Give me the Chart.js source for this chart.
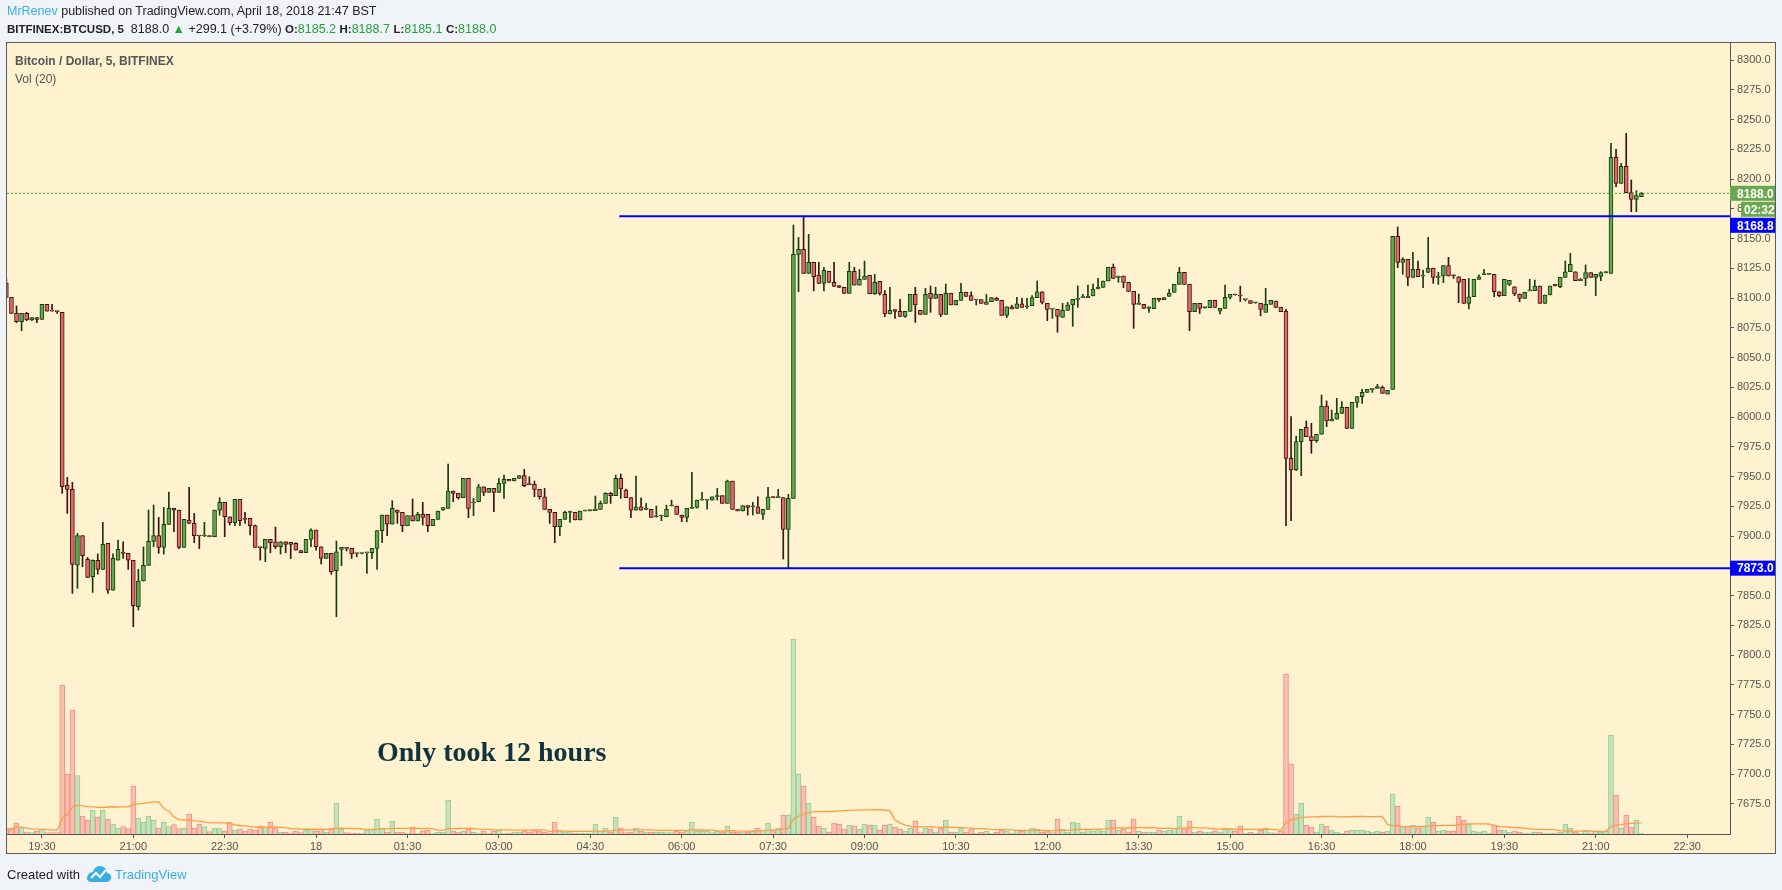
<!DOCTYPE html>
<html>
<head>
<meta charset="utf-8">
<script src="https://cdn.jsdelivr.net/npm/chart.js@4.4.0/dist/chart.umd.min.js"></script>
<style>
  html, body { margin: 0; padding: 0; width: 1782px; height: 890px; overflow: hidden; background: #f0f3f7; font-family: Arial, "Liberation Sans", sans-serif; }
  .abs { position: absolute; white-space: nowrap; z-index: 3; }
  #line1 { left: 7px; top: 4px; font-size: 12.5px; color: #222; }
  #line2 { left: 7px; top: 22px; font-size: 12.5px; color: #222; }
  #line2 b { font-size: 11.5px; }
  #line1 .user, #footer .tv { color: #3aafe0; }
  .g { color: #23a23a; }
  #frame { position: absolute; left: 6px; top: 42px; width: 1768px; height: 810px; border: 1px solid #5b5b5b; background: #fff2cf; z-index: 1; }
  #wrap { position: absolute; left: 0; top: 0; width: 1782px; height: 890px; z-index: 2; }
  #title { left: 15px; top: 54px; font-size: 12px; font-weight: bold; color: #555; }
  #vol { left: 15px; top: 72px; font-size: 12px; color: #555; }
  #note { left: 377px; top: 738px; font-family: "Liberation Serif", "Times New Roman", serif; font-weight: bold; font-size: 28px; line-height: 28px; color: #0e3440; }
  #footer { left: 7px; top: 865px; font-size: 13px; color: #222; }
  #footer svg { vertical-align: -4px; margin: 0 3px 0 6px; }
</style>
</head>
<body>
<div class="abs" id="line1"><span class="user">MrRenev</span> published on TradingView.com, April 18, 2018 21:47 BST</div>
<div class="abs" id="line2"><b>BITFINEX:BTCUSD, 5</b>&nbsp; 8188.0 <span class="g">&#9650;</span> +299.1 (+3.79%) <b>O:</b><span class="g">8185.2</span> <b>H:</b><span class="g">8188.7</span> <b>L:</b><span class="g">8185.1</span> <b>C:</b><span class="g">8188.0</span></div>
<div id="frame"></div>
<div id="wrap"><canvas id="chart"></canvas></div>
<div class="abs" id="title">Bitcoin / Dollar, 5, BITFINEX</div>
<div class="abs" id="vol">Vol (20)</div>
<div class="abs" id="note">Only took 12 hours</div>
<div class="abs" id="footer">Created with<svg width="26" height="18" viewBox="0 0 26 18"><path d="M5 17 C1 17 0 13 2 10 C3 8 5 7 7 7 C8 3 11 1 14 1 C18 1 21 4 21 8 C24 8 26 11 25 14 C24 16 22 17 20 17 Z" fill="#3aafe0"/><polyline points="5,13 10,8 14,12 20,5" fill="none" stroke="#fff" stroke-width="2"/></svg><span class="tv">TradingView</span></div>

<script>
// 5-minute candles, BITFINEX:BTCUSD, first candle 18:55
const startTime = '18:55';
const stepMinutes = 5;

const opens = [
  8112.3, 8100.5, 8087.1, 8080.1, 8087.1, 8081.5, 8083.5, 8082.1, 8094.7, 8089.6,
  8089.0, 8087.9, 7942.6, 7939.2, 7875.6, 7900.3, 7880.4, 7865.8, 7879.5, 7872.0,
  7893.8, 7854.6, 7879.8, 7886.3, 7885.4, 7879.5, 7840.6, 7862.2, 7875.4, 7895.5,
  7900.3, 7890.5, 7909.8, 7923.2, 7921.8, 7890.5, 7913.5, 7910.6, 7900.3, 7900.0,
  7900.3, 7899.4, 7921.8, 7928.3, 7916.2, 7911.2, 7930.8, 7914.8, 7914.8, 7908.7,
  7890.5, 7889.6, 7897.2, 7895.2, 7891.0, 7895.2, 7894.6, 7893.8, 7887.7, 7886.0,
  7897.2, 7905.0, 7891.0, 7881.2, 7885.4, 7870.9, 7888.8, 7890.5, 7889.6, 7885.4,
  7885.3, 7885.8, 7886.0, 7889.6, 7904.5, 7917.6, 7910.0, 7921.8, 7919.9, 7908.7,
  7917.1, 7912.6, 7918.2, 7918.2, 7908.7, 7914.0, 7921.8, 7923.2, 7937.8, 7935.8,
  7932.2, 7948.4, 7927.9, 7928.8, 7941.4, 7936.7, 7940.1, 7936.7, 7944.3, 7947.6,
  7946.2, 7948.4, 7950.7, 7943.4, 7943.4, 7939.2, 7933.0, 7922.4, 7919.9, 7907.8,
  7914.0, 7919.9, 7919.9, 7913.5, 7921.0, 7921.3, 7921.3, 7922.4, 7927.4, 7935.8,
  7933.9, 7948.4, 7938.6, 7932.2, 7921.8, 7924.6, 7922.4, 7922.4, 7916.2, 7916.8,
  7916.2, 7925.2, 7925.2, 7917.6, 7915.7, 7923.2, 7924.1, 7930.2, 7930.2, 7930.2,
  7933.0, 7933.9, 7927.4, 7946.2, 7922.4, 7921.0, 7925.5, 7924.6, 7924.6, 7918.2,
  7922.4, 7933.0, 7932.2, 7932.2, 7905.6, 7931.6, 8136.7, 8140.9, 8120.7, 8130.0,
  8119.3, 8112.3, 8122.4, 8113.2, 8110.4, 8109.0, 8103.9, 8122.4, 8110.9, 8115.7,
  8119.0, 8103.6, 8114.0, 8103.0, 8086.6, 8090.2, 8088.8, 8084.6, 8088.8, 8103.0,
  8089.6, 8086.3, 8103.9, 8099.7, 8103.0, 8086.3, 8103.9, 8094.1, 8098.0, 8104.8,
  8102.0, 8098.3, 8098.6, 8094.7, 8096.9, 8099.7, 8098.0, 8085.4, 8092.7, 8091.3,
  8095.2, 8092.7, 8093.6, 8100.3, 8105.3, 8095.5, 8090.7, 8090.5, 8083.8, 8089.6,
  8094.1, 8098.9, 8100.3, 8100.3, 8101.7, 8107.6, 8109.0, 8114.3, 8125.8, 8117.4,
  8118.5, 8113.2, 8105.6, 8094.7, 8094.7, 8091.3, 8091.0, 8099.7, 8098.6, 8101.4,
  8104.8, 8111.5, 8121.6, 8111.5, 8088.5, 8095.5, 8091.9, 8091.9, 8098.0, 8089.0,
  8091.3, 8100.5, 8103.3, 8102.2, 8098.6, 8097.8, 8096.0, 8095.5, 8088.0, 8094.7,
  8097.5, 8092.2, 8088.8, 7965.3, 7955.5, 7979.3, 7991.3, 7983.5, 7980.1, 7985.5,
  8009.2, 7996.7, 7998.1, 8003.1, 8008.1, 7990.5, 8012.3, 8017.1, 8020.7, 8023.2,
  8024.1, 8024.9, 8019.3, 8023.2, 8151.8, 8130.0, 8132.5, 8117.4, 8124.1, 8118.5,
  8121.6, 8125.0, 8117.4, 8118.5, 8127.2, 8119.4, 8117.9, 8115.7, 8095.5, 8101.1,
  8115.7, 8119.6, 8119.9, 8119.9, 8105.3, 8102.0, 8111.5, 8109.5, 8103.4, 8099.7,
  8106.0, 8106.2, 8110.1, 8095.5, 8102.5, 8111.5, 8109.5, 8117.4, 8122.1, 8122.1,
  8114.6, 8116.5, 8121.3, 8117.4, 8118.2, 8121.3, 8120.7, 8218.2, 8196.4, 8210.6,
  8188.5, 8182.9, 8185.2
];

const highs = [
  8116.0, 8100.5, 8093.3, 8087.1, 8088.0, 8083.5, 8083.5, 8094.7, 8094.7, 8094.7,
  8089.0, 8087.9, 7949.3, 7945.1, 7902.2, 7900.3, 7882.0, 7880.0, 7884.9, 7911.5,
  7893.8, 7885.0, 7896.6, 7895.2, 7885.4, 7879.5, 7872.0, 7890.8, 7921.9, 7926.1,
  7915.7, 7924.1, 7937.0, 7923.2, 7921.8, 7914.0, 7940.9, 7919.0, 7900.3, 7911.5,
  7900.3, 7921.8, 7932.2, 7928.3, 7916.2, 7930.8, 7930.8, 7919.9, 7914.8, 7909.2,
  7890.5, 7897.2, 7897.2, 7907.5, 7895.2, 7895.2, 7894.6, 7894.4, 7887.7, 7897.2,
  7906.1, 7905.0, 7891.0, 7885.4, 7885.4, 7895.8, 7890.5, 7890.5, 7889.6, 7885.4,
  7885.4, 7886.0, 7889.6, 7904.5, 7917.6, 7917.6, 7929.7, 7921.8, 7919.9, 7917.1,
  7931.1, 7919.9, 7928.3, 7918.2, 7914.0, 7921.0, 7923.8, 7960.5, 7937.8, 7935.8,
  7948.4, 7948.4, 7931.6, 7943.4, 7941.4, 7940.1, 7940.1, 7948.4, 7951.2, 7947.6,
  7948.4, 7950.7, 7956.0, 7949.8, 7946.2, 7939.2, 7940.0, 7922.4, 7919.9, 7914.0,
  7921.0, 7921.0, 7919.9, 7921.0, 7921.3, 7921.3, 7933.6, 7929.4, 7936.4, 7936.7,
  7951.2, 7952.1, 7939.5, 7932.2, 7950.4, 7932.0, 7927.4, 7922.4, 7925.2, 7917.6,
  7926.0, 7930.2, 7925.2, 7917.6, 7923.2, 7953.5, 7930.2, 7936.7, 7930.2, 7933.0,
  7940.0, 7933.9, 7947.0, 7946.2, 7922.4, 7925.5, 7925.5, 7928.3, 7933.0, 7922.4,
  7940.9, 7933.0, 7939.2, 7932.2, 7935.0, 8161.3, 8151.0, 8168.8, 8153.5, 8130.0,
  8130.0, 8125.8, 8122.4, 8130.0, 8110.4, 8109.0, 8130.0, 8125.8, 8124.0, 8131.0,
  8119.0, 8119.9, 8114.0, 8106.2, 8109.0, 8090.2, 8099.0, 8088.8, 8103.0, 8109.0,
  8089.6, 8108.1, 8110.1, 8109.0, 8103.0, 8111.8, 8103.9, 8098.0, 8112.3, 8104.8,
  8105.3, 8098.3, 8098.6, 8103.0, 8100.3, 8100.5, 8098.0, 8092.7, 8094.0, 8100.5,
  8099.7, 8099.7, 8102.0, 8114.3, 8105.3, 8095.5, 8090.7, 8090.5, 8095.5, 8096.3,
  8098.9, 8110.1, 8103.0, 8110.9, 8111.8, 8116.5, 8114.3, 8125.8, 8128.6, 8118.5,
  8118.5, 8113.2, 8105.6, 8103.4, 8094.7, 8092.7, 8099.7, 8099.7, 8100.3, 8107.3,
  8111.5, 8125.8, 8121.6, 8111.5, 8095.5, 8095.5, 8092.2, 8098.0, 8098.0, 8091.3,
  8110.9, 8103.0, 8103.3, 8110.0, 8098.6, 8097.8, 8096.0, 8095.5, 8108.1, 8098.0,
  8097.5, 8092.2, 8090.5, 8000.3, 7984.0, 7989.7, 7996.7, 7994.7, 7985.5, 8018.5,
  8013.5, 8005.9, 8015.7, 8012.9, 8008.1, 8012.3, 8017.1, 8023.2, 8023.2, 8023.2,
  8027.5, 8026.1, 8022.4, 8151.8, 8159.7, 8133.9, 8132.5, 8138.4, 8131.1, 8123.5,
  8151.0, 8125.0, 8121.6, 8127.2, 8134.2, 8119.4, 8117.9, 8115.7, 8116.5, 8115.7,
  8119.4, 8124.1, 8120.4, 8119.9, 8105.3, 8115.7, 8114.9, 8109.5, 8103.4, 8104.8,
  8115.7, 8115.1, 8110.1, 8102.5, 8110.1, 8111.5, 8117.4, 8131.1, 8137.5, 8122.1,
  8116.5, 8127.8, 8121.3, 8119.9, 8122.1, 8122.1, 8230.0, 8224.9, 8213.2, 8238.4,
  8199.2, 8190.2, 8188.7
];

const lows = [
  8100.0, 8087.0, 8079.3, 8072.5, 8081.0, 8081.0, 8079.3, 8082.0, 8089.0, 8089.0,
  8087.0, 7935.8, 7919.0, 7851.8, 7856.0, 7874.2, 7865.0, 7852.6, 7868.0, 7872.0,
  7851.8, 7854.6, 7879.8, 7881.2, 7872.0, 7823.8, 7837.8, 7862.2, 7875.4, 7891.0,
  7885.4, 7884.8, 7909.8, 7903.6, 7889.4, 7890.5, 7910.6, 7894.4, 7889.4, 7899.5,
  7899.4, 7899.4, 7917.6, 7899.4, 7909.2, 7908.7, 7908.7, 7910.6, 7900.9, 7890.5,
  7879.8, 7878.4, 7886.0, 7889.4, 7884.8, 7886.0, 7881.0, 7888.2, 7886.0, 7886.0,
  7891.0, 7888.2, 7876.5, 7881.2, 7867.8, 7832.2, 7875.0, 7887.5, 7881.2, 7882.5,
  7885.0, 7868.6, 7881.0, 7872.0, 7894.4, 7900.3, 7910.0, 7910.6, 7903.6, 7908.7,
  7912.6, 7912.6, 7909.2, 7903.6, 7908.7, 7914.0, 7921.8, 7923.2, 7928.8, 7931.0,
  7932.2, 7915.4, 7917.1, 7928.8, 7933.9, 7936.7, 7920.4, 7936.7, 7931.6, 7946.2,
  7946.2, 7948.4, 7941.4, 7943.0, 7933.0, 7931.0, 7922.4, 7910.6, 7894.4, 7900.3,
  7914.0, 7911.5, 7913.5, 7913.5, 7921.0, 7921.0, 7921.3, 7922.4, 7927.4, 7927.4,
  7933.9, 7931.6, 7932.2, 7915.4, 7921.8, 7921.8, 7922.0, 7915.7, 7915.7, 7912.9,
  7916.2, 7925.2, 7918.2, 7912.0, 7912.0, 7923.2, 7923.5, 7930.2, 7922.6, 7930.2,
  7930.2, 7927.4, 7927.4, 7922.4, 7921.0, 7921.0, 7917.6, 7917.6, 7919.0, 7914.0,
  7922.4, 7932.2, 7932.2, 7880.7, 7873.0, 7931.6, 8105.3, 8120.7, 8120.7, 8106.0,
  8112.3, 8106.0, 8113.2, 8109.8, 8109.0, 8103.9, 8103.9, 8110.9, 8110.9, 8115.7,
  8103.6, 8103.0, 8102.5, 8084.3, 8086.6, 8082.9, 8084.6, 8083.8, 8088.8, 8079.5,
  8086.3, 8086.3, 8088.0, 8099.7, 8084.3, 8086.3, 8094.1, 8094.1, 8098.0, 8101.4,
  8098.0, 8094.1, 8095.5, 8094.7, 8096.9, 8098.0, 8085.4, 8083.5, 8090.8, 8091.3,
  8092.2, 8091.3, 8093.6, 8100.3, 8095.0, 8081.0, 8082.9, 8071.2, 8083.8, 8089.6,
  8076.2, 8092.2, 8100.3, 8100.3, 8101.7, 8107.6, 8109.0, 8114.3, 8116.5, 8113.2,
  8108.7, 8105.6, 8074.5, 8094.7, 8091.3, 8088.0, 8091.0, 8097.2, 8098.6, 8101.4,
  8104.8, 8111.5, 8111.5, 8072.6, 8088.5, 8087.0, 8091.3, 8091.9, 8092.2, 8086.6,
  8091.3, 8099.2, 8102.5, 8097.0, 8097.5, 8095.5, 8095.5, 8085.1, 8088.0, 8094.7,
  8092.2, 8088.5, 7908.7, 7912.9, 7955.0, 7950.7, 7983.5, 7969.5, 7978.7, 7985.5,
  7991.9, 7996.7, 7998.1, 8003.1, 7990.5, 7990.5, 8008.1, 8011.5, 8020.7, 8020.7,
  8024.1, 8019.9, 8019.3, 8023.2, 8125.5, 8119.9, 8110.4, 8117.4, 8118.0, 8108.7,
  8121.6, 8112.3, 8111.5, 8112.9, 8118.5, 8116.5, 8096.1, 8095.5, 8090.8, 8101.1,
  8115.7, 8119.6, 8119.9, 8101.1, 8101.1, 8102.0, 8110.4, 8102.0, 8096.9, 8099.7,
  8106.0, 8106.2, 8095.5, 8095.5, 8102.5, 8110.1, 8108.7, 8117.4, 8122.1, 8114.6,
  8114.6, 8110.4, 8117.4, 8102.0, 8114.6, 8121.0, 8120.7, 8193.6, 8196.4, 8188.5,
  8172.5, 8172.5, 8185.1
];

const closes = [
  8100.5, 8087.1, 8080.1, 8087.1, 8081.5, 8083.5, 8082.1, 8094.7, 8089.0, 8089.0,
  8088.5, 7941.4, 7939.2, 7876.2, 7900.3, 7883.5, 7865.3, 7879.5, 7872.0, 7893.0,
  7854.6, 7881.2, 7888.8, 7885.4, 7879.8, 7841.5, 7862.2, 7875.4, 7895.5, 7900.3,
  7890.5, 7909.8, 7923.2, 7921.8, 7890.5, 7914.0, 7910.6, 7900.3, 7900.0, 7900.3,
  7899.4, 7921.8, 7928.3, 7916.2, 7911.2, 7930.8, 7912.9, 7914.0, 7908.7, 7890.5,
  7890.2, 7897.2, 7894.4, 7891.0, 7895.2, 7893.0, 7893.0, 7888.2, 7886.0, 7897.2,
  7905.0, 7891.0, 7881.2, 7885.4, 7870.0, 7886.8, 7890.5, 7889.6, 7884.9, 7885.3,
  7885.3, 7885.8, 7889.6, 7904.5, 7917.6, 7910.0, 7923.2, 7919.9, 7908.7, 7917.1,
  7912.6, 7918.2, 7915.7, 7908.7, 7914.0, 7921.0, 7923.8, 7937.8, 7935.8, 7932.2,
  7948.4, 7923.2, 7928.0, 7941.4, 7936.7, 7940.1, 7936.7, 7944.3, 7947.6, 7946.2,
  7948.4, 7950.7, 7942.3, 7943.2, 7939.2, 7933.0, 7922.4, 7919.9, 7907.8, 7914.0,
  7919.9, 7919.9, 7913.5, 7921.0, 7921.3, 7921.3, 7922.7, 7927.4, 7935.8, 7933.9,
  7948.4, 7939.5, 7932.2, 7921.8, 7924.6, 7921.8, 7922.4, 7915.7, 7916.2, 7917.6,
  7922.4, 7925.2, 7918.2, 7915.7, 7923.2, 7924.1, 7930.2, 7930.2, 7930.2, 7933.0,
  7933.9, 7927.4, 7946.2, 7922.4, 7921.0, 7925.5, 7924.1, 7924.6, 7919.0, 7922.4,
  7933.0, 7932.2, 7932.2, 7905.6, 7931.6, 8136.7, 8140.9, 8120.7, 8130.0, 8117.9,
  8112.3, 8123.2, 8113.2, 8109.8, 8109.0, 8103.9, 8122.4, 8110.9, 8115.7, 8118.5,
  8103.6, 8113.2, 8103.9, 8086.6, 8089.6, 8088.8, 8084.6, 8088.8, 8103.0, 8094.1,
  8086.3, 8103.0, 8099.7, 8103.0, 8086.3, 8103.9, 8094.1, 8098.0, 8104.8, 8101.4,
  8098.0, 8098.3, 8095.5, 8096.9, 8100.3, 8098.0, 8085.4, 8092.7, 8090.8, 8095.2,
  8092.2, 8092.7, 8100.3, 8105.3, 8096.4, 8090.5, 8090.7, 8084.6, 8089.6, 8094.1,
  8098.9, 8098.9, 8100.3, 8101.7, 8107.6, 8109.0, 8114.3, 8125.8, 8116.5, 8118.5,
  8113.2, 8105.6, 8094.7, 8094.7, 8091.3, 8092.7, 8099.7, 8098.3, 8100.3, 8104.2,
  8111.5, 8121.6, 8111.5, 8088.5, 8095.5, 8091.3, 8091.9, 8098.0, 8092.2, 8091.3,
  8100.5, 8103.0, 8102.5, 8101.7, 8098.6, 8095.5, 8096.0, 8090.5, 8094.7, 8098.0,
  8092.2, 8088.5, 7965.3, 7955.5, 7979.3, 7989.7, 7983.5, 7980.1, 7985.5, 8009.2,
  7996.7, 7998.1, 8003.1, 8008.1, 7990.5, 8012.3, 8017.1, 8020.7, 8023.2, 8023.2,
  8025.5, 8019.9, 8022.4, 8151.8, 8130.0, 8132.5, 8117.4, 8124.1, 8118.0, 8118.5,
  8125.0, 8117.4, 8118.5, 8127.2, 8118.5, 8118.5, 8113.2, 8095.5, 8101.1, 8115.7,
  8117.9, 8119.6, 8119.9, 8105.3, 8102.0, 8115.7, 8114.9, 8103.4, 8099.7, 8104.8,
  8106.0, 8110.1, 8095.5, 8102.5, 8110.1, 8110.1, 8117.4, 8122.1, 8128.3, 8114.6,
  8116.0, 8121.3, 8117.4, 8119.9, 8121.3, 8121.3, 8218.2, 8196.4, 8210.6, 8188.5,
  8182.9, 8186.0, 8188.0
];

// volume per candle
const volumes = [
  50, 53, 110, 63, 20, 13, 30, 43, 13, 13,
  13, 1490, 600, 1240, 583, 180, 140, 240, 170, 240,
  150, 100, 60, 73, 53, 480, 160, 120, 180, 140,
  60, 120, 73, 93, 53, 60, 200, 60, 100, 73,
  23, 60, 53, 30, 110, 40, 50, 30, 50, 40,
  80, 70, 120, 60, 20, 20, 10, 30, 13, 40,
  50, 30, 50, 20, 60, 310, 50, 13, 10, 10,
  10, 37, 50, 150, 60, 20, 130, 20, 20, 10,
  70, 10, 30, 40, 10, 20, 20, 340, 30, 20,
  30, 50, 20, 10, 30, 10, 30, 40, 10, 10,
  20, 20, 30, 20, 40, 30, 20, 10, 120, 40,
  20, 13, 10, 10, 10, 10, 100, 30, 60, 20,
  170, 60, 13, 20, 60, 30, 20, 20, 20, 20,
  13, 13, 30, 20, 30, 120, 30, 30, 30, 13,
  30, 20, 80, 20, 20, 13, 20, 30, 60, 40,
  110, 37, 60, 190, 190, 1950, 600, 480, 310, 170,
  80, 60, 20, 110, 100, 50, 90, 80, 50, 100,
  90, 90, 40, 90, 100, 70, 50, 30, 60, 130,
  13, 60, 50, 20, 60, 140, 20, 20, 60, 20,
  50, 10, 20, 30, 10, 20, 40, 30, 10, 40,
  30, 40, 60, 50, 20, 40, 15, 150, 50, 20,
  120, 110, 20, 50, 30, 50, 30, 140, 140, 40,
  50, 20, 150, 30, 20, 20, 20, 40, 30, 40,
  60, 180, 50, 130, 20, 30, 20, 20, 30, 20,
  60, 50, 30, 80, 10, 20, 10, 40, 60, 13,
  10, 30, 1600, 700, 200, 310, 90, 70, 20, 100,
  80, 40, 20, 10, 30, 40, 40, 40, 30, 20,
  30, 20, 30, 400, 280, 80, 80, 90, 60, 80,
  170, 120, 30, 40, 30, 30, 180, 140, 100, 30,
  20, 30, 10, 90, 40, 40, 20, 30, 20, 10,
  10, 20, 20, 10, 10, 10, 20, 100, 60, 20,
  10, 40, 10, 30, 20, 30, 990, 390, 60, 190,
  70, 140, 10
];

const levels = [8168.8, 7873.0];   // horizontal support / resistance
const levelStart = 120.7;          // candle slot where the drawn lines begin
const countdownText = '02:32';
const tickLabels = ['19:30', '21:00', '22:30', '18', '01:30', '03:00', '04:30', '06:00', '07:30',
  '09:00', '10:30', '12:00', '13:30', '15:00', '16:30', '18:00', '19:30', '21:00', '22:30'];
const priceTicks = [7675, 7700, 7725, 7750, 7775, 7800, 7825, 7850, 7875, 7900, 7925, 7950, 7975,
  8000, 8025, 8050, 8075, 8100, 8125, 8150, 8175, 8200, 8225, 8250, 8275, 8300];

// visible ranges
const xMin = 0.127, xMax = 339.44;
const yMin = 7649.6, yMax = 8314.3;
const volMax = 7910;

// colours
const upFill = '#62a84a', upLine = '#163d10';
const downFill = '#e36969', downLine = '#3f1210';
const volUpFill = '#c8e2b8', volUpLine = '#92cb9b';
const volDownFill = '#fac0ac', volDownLine = '#f0928a';

document.addEventListener('DOMContentLoaded', function () {
  const n = closes.length;
  const slots = closes.map((c, i) => i);
  const isUp = slots.map(i => closes[i] >= opens[i]);

  // slot of every tick label, walking forward in time from the first candle
  const toMin = s => s.length === 2 ? 0 : parseInt(s.slice(0, 2)) * 60 + parseInt(s.slice(3));
  const start = toMin(startTime);
  let dayOffset = 0, prev = -1;
  const tickSlots = tickLabels.map(lbl => {
    let m = toMin(lbl);
    if (m < prev) dayOffset += 1440;
    prev = m;
    return (m + dayOffset - start) / stepMinutes;
  });

  // 20-period moving average of volume
  const volMA = volumes.map((v, i) => {
    const win = volumes.slice(Math.max(0, i - 19), i + 1);
    return win.reduce((a, b) => a + b, 0) / win.length;
  });

  const lastClose = closes[n - 1];

  const priceTags = {
    id: 'priceTags',
    afterDraw(chart) {
      const ctx = chart.ctx;
      const ys = chart.scales.y;
      const x0 = chart.chartArea.right;
      const x1 = x0 + 45;
      const h = 15;
      const tags = [
        { text: lastClose.toFixed(1), y: ys.getPixelForValue(lastClose), bg: '#6aa84f', left: x0, tx: x0 + 7 },
        { text: countdownText, y: null, bg: '#6aa84f', left: x0 + 11, tx: x0 + 14 }
      ];
      levels.forEach(lv => tags.push({ text: lv.toFixed(1), y: ys.getPixelForValue(lv), bg: '#0000ff', left: x0, tx: x0 + 7 }));
      let prevBottom = -1e9;
      ctx.save();
      ctx.font = 'bold 12px Arial, "Liberation Sans", sans-serif';
      ctx.textBaseline = 'middle';
      tags.forEach(t => {
        let top = t.y === null ? prevBottom + 1 : t.y - h / 2;
        if (top < prevBottom + 1) top = prevBottom + 1;
        ctx.fillStyle = t.bg;
        ctx.fillRect(t.left, top, x1 - t.left, h);
        ctx.fillStyle = '#ffffff';
        ctx.fillText(t.text, t.tx, top + h / 2 + 1);
        prevBottom = top + h;
      });
      ctx.restore();
    }
  };

  Chart.defaults.font.family = 'Arial, "Liberation Sans", sans-serif';
  Chart.defaults.color = '#555';

  new Chart(document.getElementById('chart'), {
    type: 'bar',
    data: {
      datasets: [
        {
          label: 'Vol',
          yAxisID: 'yv',
          data: slots.map(i => ({ x: i, y: volumes[i] })),
          backgroundColor: slots.map(i => isUp[i] ? volUpFill : volDownFill),
          borderColor: slots.map(i => isUp[i] ? volUpLine : volDownLine),
          borderWidth: 1,
          borderSkipped: 'start',
          barThickness: 5,
          grouped: false,
          order: 10
        },
        {
          type: 'line',
          label: 'Vol MA 20',
          yAxisID: 'yv',
          data: slots.map(i => ({ x: i, y: volMA[i] })),
          borderColor: '#ff9c48',
          borderWidth: 1.3,
          pointRadius: 0,
          tension: 0,
          order: 9
        },
        {
          label: 'wick',
          yAxisID: 'y',
          data: slots.map(i => ({ x: i, y: [lows[i], highs[i]] })),
          backgroundColor: slots.map(i => isUp[i] ? upLine : downLine),
          borderWidth: 0,
          barThickness: 1,
          minBarLength: 1,
          grouped: false,
          order: 3
        },
        {
          label: 'body',
          yAxisID: 'y',
          data: slots.map(i => ({ x: i, y: [opens[i], closes[i]] })),
          backgroundColor: slots.map(i => isUp[i] ? upFill : downFill),
          borderColor: slots.map(i => isUp[i] ? upLine : downLine),
          borderWidth: 1,
          borderSkipped: false,
          barThickness: 4,
          minBarLength: 1,
          grouped: false,
          order: 2
        },
        ...levels.map(lv => ({
          type: 'line',
          label: 'level ' + lv,
          yAxisID: 'y',
          data: [{ x: levelStart, y: lv }, { x: xMax, y: lv }],
          borderColor: '#0000ff',
          borderWidth: 2,
          pointRadius: 0,
          order: 1
        })),
        {
          type: 'line',
          label: 'last',
          yAxisID: 'y',
          data: [{ x: xMin, y: lastClose }, { x: xMax, y: lastClose }],
          borderColor: '#3f9e3f',
          borderWidth: 1,
          borderDash: [2, 2],
          pointRadius: 0,
          order: 0
        }
      ]
    },
    options: {
      responsive: true,
      maintainAspectRatio: false,
      animation: false,
      events: [],
      layout: { padding: { left: 7, right: 7, top: 43, bottom: 37 } },
      plugins: { legend: { display: false }, tooltip: { enabled: false } },
      scales: {
        x: {
          type: 'linear',
          position: 'bottom',
          min: xMin,
          max: xMax,
          offset: false,
          grid: { drawOnChartArea: false, drawTicks: true, tickLength: 4, color: '#555', offset: false },
          border: { display: true, color: '#555', width: 1 },
          ticks: {
            autoSkip: false,
            maxRotation: 0,
            padding: 2,
            color: '#555',
            font: { size: 11 },
            callback: (v, k) => tickLabels[k]
          },
          afterBuildTicks: s => { s.ticks = tickSlots.map(v => ({ value: v })); },
          afterFit: s => { s.height = 19; }
        },
        y: {
          type: 'linear',
          position: 'right',
          min: yMin,
          max: yMax,
          grid: { drawOnChartArea: false, drawTicks: true, tickLength: 4, color: '#555' },
          border: { display: true, color: '#555', width: 1 },
          ticks: {
            padding: 3,
            color: '#555',
            font: { size: 11 },
            callback: v => v.toFixed(1)
          },
          afterBuildTicks: s => { s.ticks = priceTicks.map(v => ({ value: v })); },
          afterFit: s => { s.width = 45; }
        },
        yv: { type: 'linear', display: false, min: 0, max: volMax }
      }
    },
    plugins: [priceTags]
  });
});
</script>
</body>
</html>
